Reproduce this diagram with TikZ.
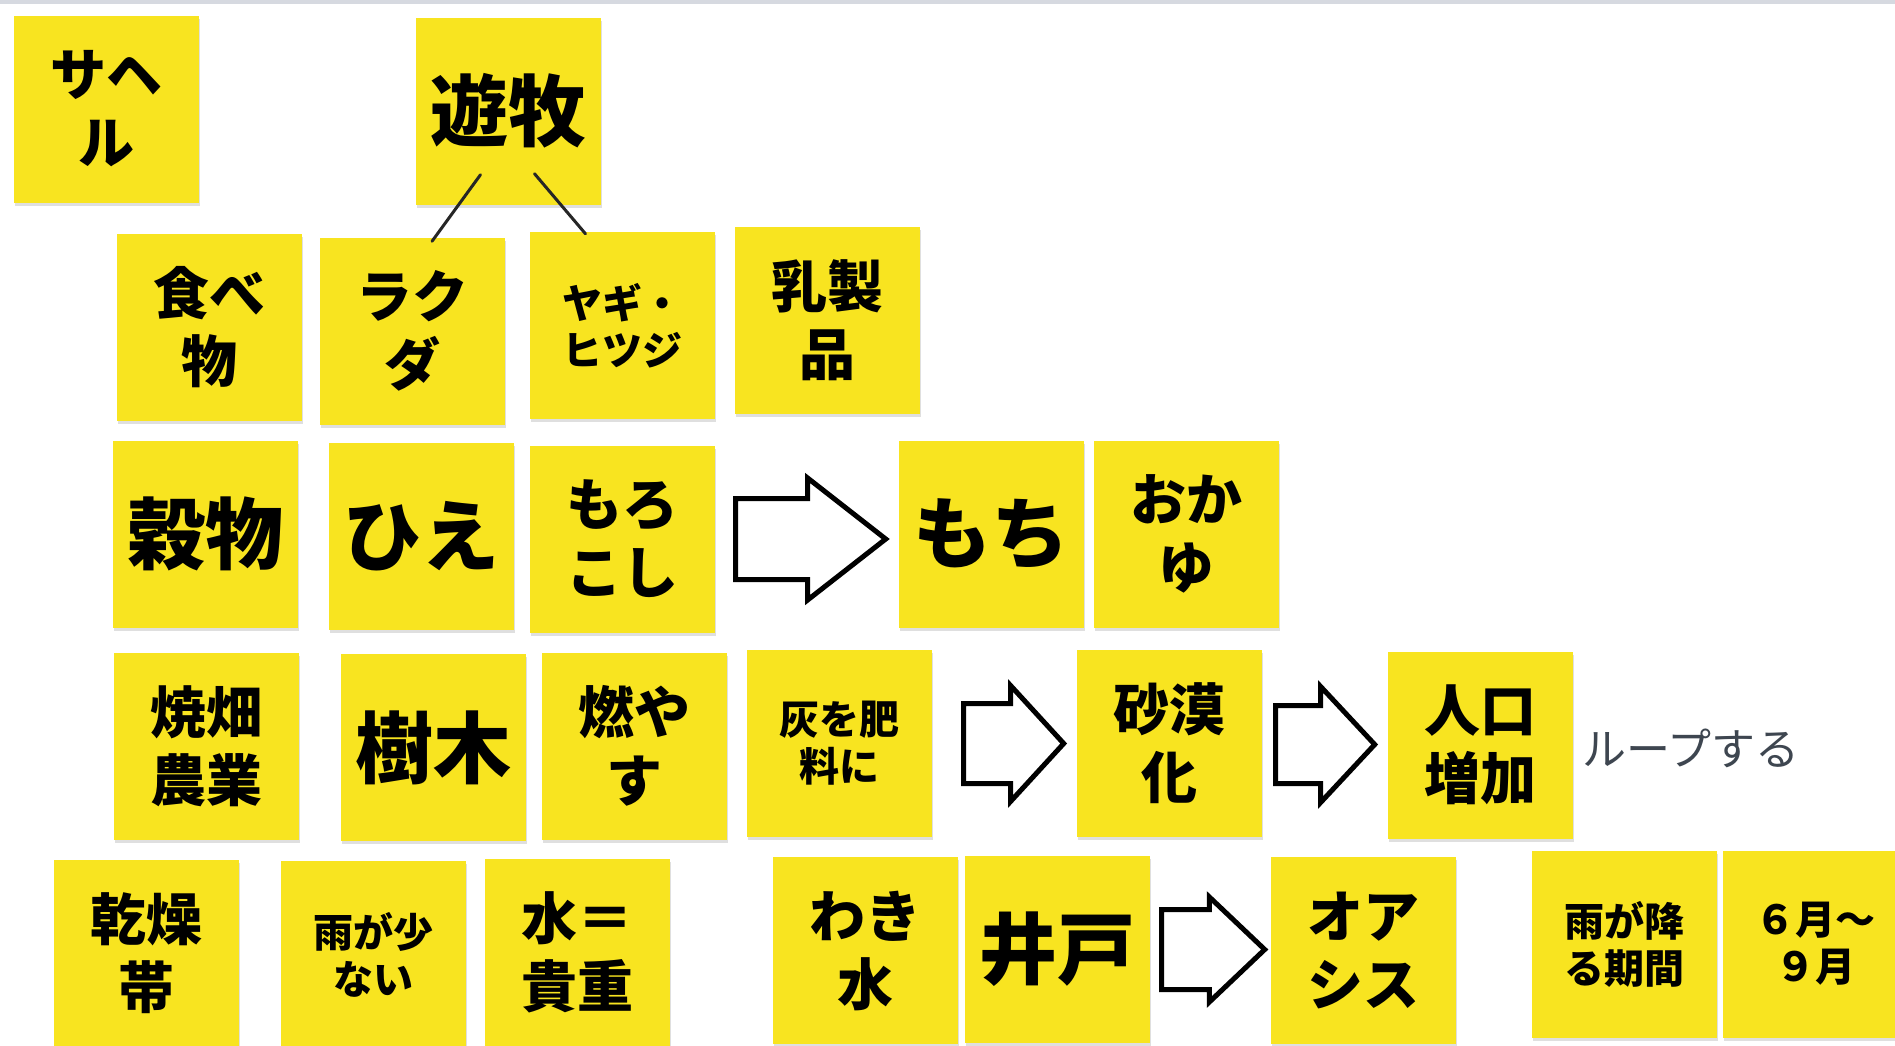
\documentclass[tikz,border=0pt]{standalone}
\usepackage{fontspec}
\newfontfamily\jp{Noto Sans CJK JP}
\usetikzlibrary{shapes.arrows,shadows}
\definecolor{notey}{RGB}{248,228,32}
\definecolor{loopgray}{RGB}{62,70,80}
\definecolor{topgray}{RGB}{214,217,224}

\begin{document}
\begin{tikzpicture}[x=1pt,y=-1pt,
    note/.style={rectangle, fill=notey, minimum width=185pt, minimum height=187pt, inner sep=0pt, align=center,
      drop shadow={shadow xshift=1pt, shadow yshift=-3pt, opacity=0.25}},
    big/.style={font=\jp\bfseries\fontsize{78}{90}\selectfont},
    mid/.style={font=\jp\bfseries\fontsize{56}{68}\selectfont},
    small/.style={font=\jp\bfseries\fontsize{40}{47}\selectfont},
    fat/.style={single arrow, draw=black, fill=white, line width=5pt, inner sep=0pt, anchor=tail},
    twig/.style={draw=black!85, line width=3pt, line cap=round}]
	\useasboundingbox (0,0) rectangle (1895,1045);
	\clip (0,0) rectangle (1895,1045);
	\fill[white] (0,0) rectangle (1895,1045);
	\fill[topgray] (0,0) rectangle (1895,4);
	
	% Row 1
	\node[note, mid] (saheru) at (106,109) {サヘ\\ル};
	\node[note, big] (yuboku) at (508.5,111) {遊牧};
	
	% Row 2
	\node[note, mid] (tabemono) at (209.5,327.5) {食べ\\物};
	\node[note, mid] (rakuda) at (412,331) {ラク\\ダ};
	\node[note, small] (yagi) at (622.5,325.5) {ヤギ・\\ヒツジ};
	\node[note, mid] (nyuseihin) at (827.5,320.5) {乳製\\品};
	
	% Row 3
	\node[note, big] (kokumotsu) at (205.5,534) {穀物};
	\node[note, big] (hie) at (421,536.5) {ひえ};
	\node[note, mid] (morokoshi) at (622.5,539) {もろ\\こし};
	\node[note, big] (mochi) at (991.5,534) {もち};
	\node[note, mid] (okayu) at (1186.5,534) {おか\\ゆ};
	
	% Row 4
	\node[note, mid] (yakihata) at (206,746.5) {焼畑\\農業};
	\node[note, big] (jumoku) at (433.5,747.5) {樹木};
	\node[note, mid] (moyasu) at (634.5,746) {燃や\\す};
	\node[note, small] (hai) at (839.5,743.5) {灰を肥\\料に};
	\node[note, mid] (sabaku) at (1169.5,743.5) {砂漠\\化};
	\node[note, mid] (jinko) at (1480.5,745) {人口\\増加};
	\node[font=\jp\fontsize{44}{50}\selectfont, text=loopgray, anchor=west, inner sep=0pt] (loop) at (1582,748) {ループする};
	
	% Row 5
	\node[note, mid] (kansou) at (146.5,953.5) {乾燥\\帯};
	\node[note, small] (amesukunai) at (373,954.5) {雨が少\\ない};
	\node[note, mid] (mizu) at (577,952.5) {水＝\\貴重};
	\node[note, mid] (wakimizu) at (865.5,950.5) {わき\\水};
	\node[note, big] (ido) at (1057.5,949.5) {井戸};
	\node[note, mid] (oasis) at (1363.5,950.5) {オア\\シス};
	\node[note, small] (amefuru) at (1624,944) {雨が降\\る期間};
	\node[note, small] (rokugatsu) at (1815,944) {６月～\\９月};
	
	% Arrows
	\node[fat, minimum height=150pt, inner ysep=38pt, single arrow head extend=20.5pt, single arrow tip angle=76] (arrmochi) at ([xshift=18pt]morokoshi.east) {};
	\node[fat, minimum height=100pt, inner ysep=37.5pt, single arrow head extend=18pt, single arrow tip angle=95] (arrsabaku) at ([xshift=29pt]hai.east) {};
	\node[fat, minimum height=99pt, inner ysep=36.5pt, single arrow head extend=19pt, single arrow tip angle=94] (arrjinko) at ([xshift=11pt,yshift=-1pt]sabaku.east) {};
	\node[fat, minimum height=103pt, inner ysep=37.5pt, single arrow head extend=12.5pt, single arrow tip angle=87] (arroasis) at ([xshift=9pt]ido.east) {};
	
	% Lines
	\draw[twig] ([xshift=-28pt,yshift=30pt]yuboku.south) -- ([xshift=20pt,yshift=-4pt]rakuda.north);
	\draw[twig] ([xshift=26pt,yshift=31pt]yuboku.south) -- ([xshift=-37pt,yshift=-2pt]yagi.north);
\end{tikzpicture}
\end{document}
